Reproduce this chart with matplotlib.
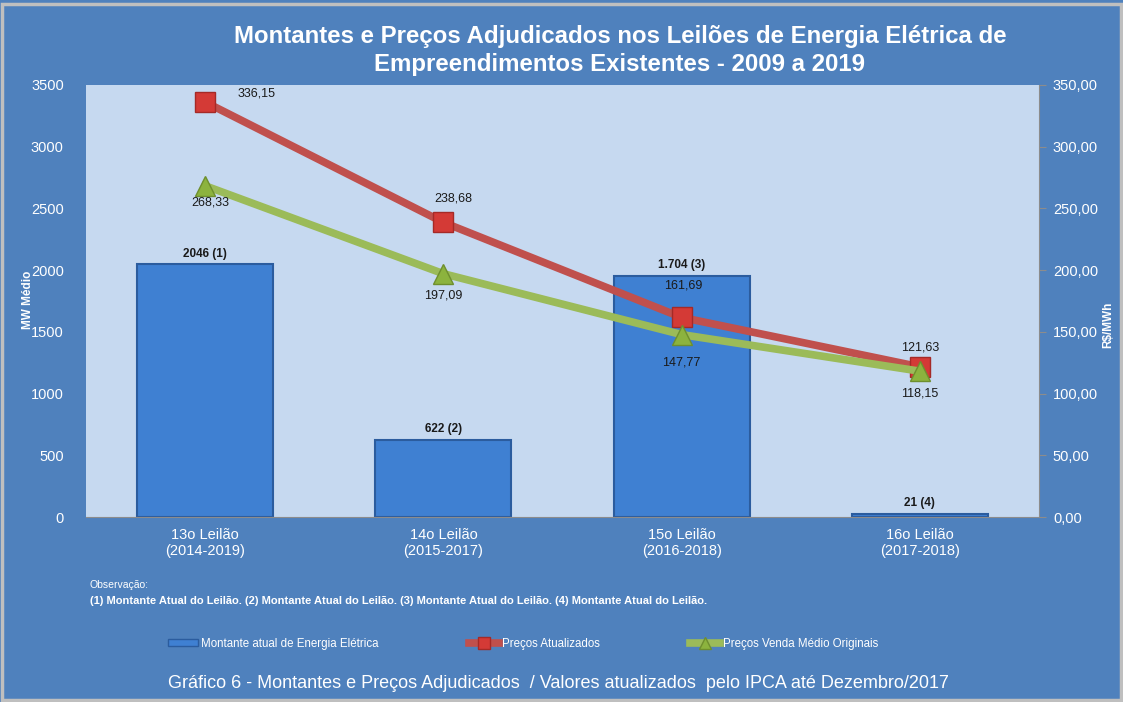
import matplotlib
matplotlib.use("Agg")
import matplotlib.pyplot as plt
from matplotlib.patches import Rectangle
import numpy as np

categories = ["13o Leilão\n(2014-2019)", "14o Leilão\n(2015-2017)", "15o Leilão\n(2016-2018)", "16o Leilão\n(2017-2018)"]
montante = [2046, 622, 1952, 21]
montante_labels = ["2046 (1)", "622 (2)", "1.704 (3)", "21 (4)"]
precos_atualizados = [336.15, 238.68, 161.69, 121.63]
precos_originais = [268.33, 197.09, 147.77, 118.15]
left_ticks = [0, 500, 1000, 1500, 2000, 2500, 3000, 3500]
right_ticks = [0, 50, 100, 150, 200, 250, 300, 350]

BG = "#4F81BD"
PLOT_BG = "#C6D9F0"
plt.rcParams['font.family'] = ['Liberation Sans', 'DejaVu Sans']

fig = plt.figure(figsize=(11.23, 7.02), dpi=100)
fig.patch.set_facecolor(BG)
fig.patches.append(Rectangle((0.002, 0.003), 0.996, 0.991, transform=fig.transFigure,
                             fill=False, edgecolor="#BFBFBF", linewidth=2.5, zorder=10))

ax = fig.add_axes([0.0766, 0.2635, 0.8486, 0.6155])
ax.set_facecolor(PLOT_BG)
x = np.arange(len(categories))
bars = ax.bar(x, montante, width=0.57, color="#3F80D2", edgecolor="#2B5C9E", linewidth=1.5, zorder=2)
for xi, v, lab in zip(x, montante, montante_labels):
    ax.text(xi, v + 40, lab, ha="center", va="bottom", fontsize=8.5, fontweight="bold", color="#1a1a1a")
ax.set_xlim(-0.5, 3.5)
ax.set_ylim(0, 3500)
ax.set_yticks(left_ticks)
ax.set_yticklabels([str(t) for t in left_ticks], color="white", fontsize=10.5)
ax.set_xticks(x)
ax.set_xticklabels(categories, color="white", fontsize=10.5)
ax.tick_params(axis="y", length=0, pad=16)
ax.tick_params(axis="x", length=0, pad=8)
for s in ["top", "left"]:
    ax.spines[s].set_visible(False)
ax.spines["bottom"].set_color("#8C8C8C")
ax.spines["right"].set_visible(False)

ax2 = ax.twinx()
ax2.set_ylim(0, 350)
ax2.set_yticks(right_ticks)
ax2.set_yticklabels([f"{t},00" for t in right_ticks], color="white", fontsize=10.5)
ax2.tick_params(axis="y", length=5, color="#8C8C8C", pad=5)
for s in ["top", "left", "bottom"]:
    ax2.spines[s].set_visible(False)
ax2.spines["right"].set_color("#8C8C8C")

fig.text(0.025, 0.573, "MW Médio", rotation=90, ha="center", va="center", color="white",
         fontsize=8.5, fontweight="bold")
fig.text(0.9866, 0.537, "R$/MWh", rotation=90, ha="center", va="center", color="white",
         fontsize=8.5, fontweight="bold")

l1, = ax2.plot(x, precos_atualizados, color="#C0504D", linewidth=5.5, marker="s", markersize=14,
               markerfacecolor="#D43A36", markeredgecolor="#A52A27", zorder=4,
               label="Preços Atualizados")
l2, = ax2.plot(x, precos_originais, color="#9BBB59", linewidth=5.5, marker="^", markersize=15,
               markerfacecolor="#8CB33E", markeredgecolor="#6E8F2E", zorder=5,
               label="Preços Venda Médio Originais")

def fmt(v):
    return f"{v:.2f}".replace(".", ",")

# label offsets in points
off_red = [(37, 6), (7, 17), (1, 23), (0, 14)]
off_green = [(4, -12), (0, -16), (0, -20), (0, -16)]
for xi, v, o in zip(x, precos_atualizados, off_red):
    ax2.annotate(fmt(v), (xi, v), xytext=o, textcoords="offset points", ha="center", va="center",
                 fontsize=9, color="#1a1a1a", zorder=6)
for xi, v, o in zip(x, precos_originais, off_green):
    ax2.annotate(fmt(v), (xi, v), xytext=o, textcoords="offset points", ha="center", va="center",
                 fontsize=9, color="#1a1a1a", zorder=6)

fig.text(0.552, 0.928, "Montantes e Preços Adjudicados nos Leilões de Energia Elétrica de\nEmpreendimentos Existentes - 2009 a 2019",
         ha="center", va="center", color="white", fontsize=17.3, fontweight="bold", linespacing=1.3)

fig.text(0.08, 0.162, "Observação:", color="white", fontsize=7.5)
fig.text(0.08, 0.14, "(1) Montante Atual do Leilão. (2) Montante Atual do Leilão. (3) Montante Atual do Leilão. (4) Montante Atual do Leilão.",
         color="white", fontsize=8, fontweight="bold")

bar_handle = Rectangle((0, 0), 1, 1, facecolor="#3F80D2", edgecolor="#2B5C9E")
leg = fig.legend([bar_handle, l1, l2], ["Montante atual de Energia Elétrica", "Preços Atualizados", "Preços Venda Médio Originais"],
                 loc="center", bbox_to_anchor=(0.466, 0.083), ncol=3, frameon=False, fontsize=8.3,
                 handlelength=2.6, handleheight=0.5, handletextpad=0.3, columnspacing=7.8, markerscale=0.6)
for t in leg.get_texts():
    t.set_color("white")

fig.text(0.497, 0.027, "Gráfico 6 - Montantes e Preços Adjudicados  / Valores atualizados  pelo IPCA até Dezembro/2017",
         ha="center", va="center", color="white", fontsize=13)

fig.savefig("out.png", dpi=100, facecolor=BG)
